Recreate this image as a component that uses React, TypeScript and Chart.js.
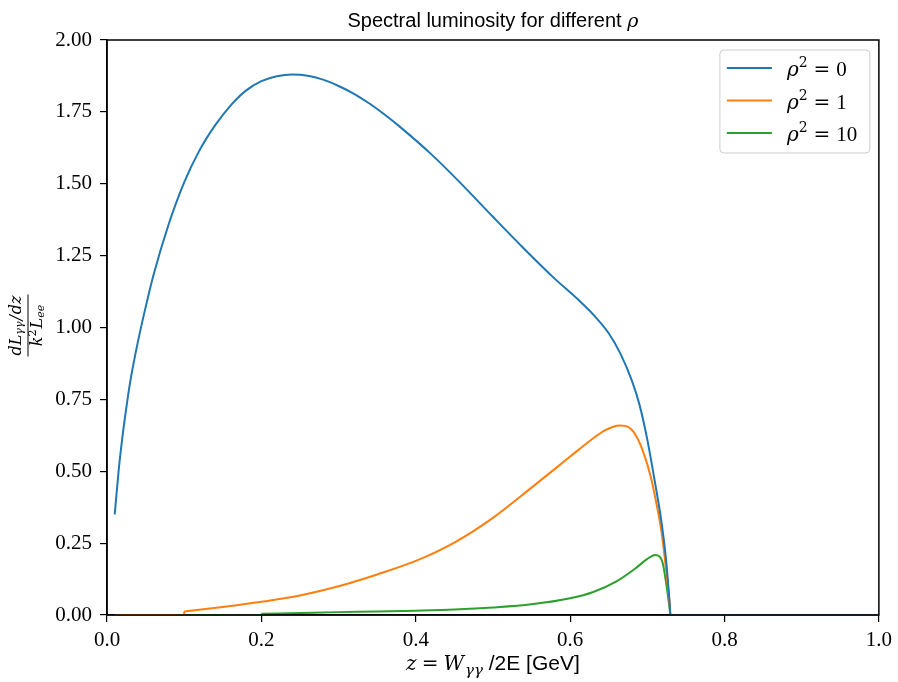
import React, { useEffect, useRef } from "react";
import { Chart, registerables } from "chart.js";
Chart.register(...registerables);

// ---------- data ----------
const rhoSquared = [0, 1, 10];
const seriesColors = ["#1f77b4", "#ff7f0e", "#2ca02c"];

const zRho0 = [0.01, 0.015, 0.02, 0.025, 0.03, 0.04, 0.05, 0.06, 0.08, 0.1, 0.12, 0.14, 0.16, 0.18, 0.2, 0.22, 0.24, 0.26, 0.28, 0.3, 0.32, 0.34, 0.36, 0.38, 0.42, 0.46, 0.5, 0.54, 0.58, 0.61, 0.63, 0.65, 0.665, 0.68, 0.69, 0.7, 0.71, 0.718, 0.724, 0.729, 0.73, 0.8, 0.9, 1.0];
const lumRho0 = [0.35, 0.5, 0.62, 0.72, 0.81, 0.95, 1.07, 1.18, 1.36, 1.505, 1.617, 1.703, 1.772, 1.824, 1.857, 1.874, 1.88, 1.876, 1.862, 1.84, 1.813, 1.779, 1.74, 1.697, 1.603, 1.497, 1.385, 1.275, 1.17, 1.098, 1.045, 0.98, 0.91, 0.815, 0.73, 0.61, 0.46, 0.33, 0.2, 0.04, 0, 0, 0, 0];

// null marks the jump where the curve switches on
const zRho1 = [0.01, 0.0999, 0.1, 0.1, 0.1, 0.15, 0.2, 0.25, 0.3, 0.35, 0.4, 0.45, 0.5, 0.55, 0.6, 0.63, 0.645, 0.655, 0.665, 0.675, 0.685, 0.695, 0.705, 0.712, 0.718, 0.724, 0.729, 0.73, 0.8, 0.9, 1.0];
const lumRho1 = [0, 0, 0.012, null, 0.012, 0.028, 0.046, 0.068, 0.1, 0.141, 0.188, 0.252, 0.338, 0.443, 0.551, 0.615, 0.642, 0.654, 0.659, 0.654, 0.625, 0.565, 0.475, 0.385, 0.296, 0.165, 0.035, 0, 0, 0, 0];

const zRho10 = [0.01, 0.1999, 0.2, 0.2, 0.2, 0.25, 0.3, 0.35, 0.4, 0.45, 0.5, 0.55, 0.6, 0.63, 0.66, 0.685, 0.7, 0.71, 0.716, 0.72, 0.725, 0.729, 0.73, 0.8, 0.9, 1.0];
const lumRho10 = [0, 0, 0.004, null, 0.004, 0.007, 0.01, 0.012, 0.015, 0.019, 0.026, 0.037, 0.058, 0.08, 0.117, 0.163, 0.195, 0.209, 0.203, 0.18, 0.1, 0.02, 0, 0, 0, 0];

const xTickValues = [0, 0.2, 0.4, 0.6, 0.8, 1.0];
const yTickValues = [0, 0.25, 0.5, 0.75, 1.0, 1.25, 1.5, 1.75, 2.0];

const titleText = "Spectral luminosity for different ";

// ---------- helpers ----------
const SERIF = "'Liberation Serif', 'DejaVu Serif', serif";
const MATH = "'DejaVu Serif', serif";
const SANS = "'Liberation Sans', 'DejaVu Sans', sans-serif";

type Seg = { t: string; font: string; dy?: number; gap?: number };

function segWidth(ctx: CanvasRenderingContext2D, segs: Seg[]) {
  let w = 0;
  for (const s of segs) {
    ctx.font = s.font;
    w += ctx.measureText(s.t).width + (s.gap || 0);
  }
  return w;
}

function drawSegs(ctx: CanvasRenderingContext2D, segs: Seg[], x: number, y: number, align: "left" | "center") {
  const w = segWidth(ctx, segs);
  let cx = align === "center" ? x - w / 2 : x;
  ctx.textAlign = "left";
  ctx.textBaseline = "alphabetic";
  for (const s of segs) {
    cx += s.gap || 0;
    ctx.font = s.font;
    ctx.fillText(s.t, cx, y + (s.dy || 0));
    cx += ctx.measureText(s.t).width;
  }
  return w;
}

const decorPlugin = {
  id: "decor",
  afterDraw(chart: any) {
    const ctx: CanvasRenderingContext2D = chart.ctx;
    const a = chart.chartArea;
    ctx.save();
    // frame
    ctx.strokeStyle = "#000";
    ctx.lineWidth = 1.5;
    ctx.strokeRect(a.left, a.top, a.right - a.left, a.bottom - a.top);

    ctx.fillStyle = "#000";
    const cx = (a.left + a.right) / 2;
    // title
    drawSegs(
      ctx,
      [
        { t: titleText, font: `20px ${SANS}` },
        { t: "ρ", font: `italic 19px ${MATH}` },
      ],
      cx,
      27,
      "center"
    );
    // x label
    drawSegs(
      ctx,
      [
        { t: "z", font: `italic 20px ${MATH}` },
        { t: "=", font: `20px ${MATH}`, gap: 5 },
        { t: "W", font: `italic 20px ${MATH}`, gap: 5 },
        { t: "γγ", font: `italic 15px ${MATH}`, dy: 5, gap: 1 },
        { t: " /2E [GeV]", font: `21px ${SANS}` },
      ],
      cx,
      670,
      "center"
    );
    // y label (fraction, rotated)
    ctx.save();
    ctx.translate(28, (a.top + a.bottom) / 2 - 2);
    ctx.rotate(-Math.PI / 2);
    const num: Seg[] = [
      { t: "dL", font: `italic 16px ${MATH}` },
      { t: "γγ", font: `italic 11px ${MATH}`, dy: 2 },
      { t: "/", font: `italic 16px ${MATH}`, gap: 1 },
      { t: "dz", font: `italic 16px ${MATH}`, gap: 1 },
    ];
    const den: Seg[] = [
      { t: "k", font: `italic 16px ${MATH}` },
      { t: "2", font: `11px ${MATH}`, dy: -6 },
      { t: "L", font: `italic 16px ${MATH}`, gap: 1 },
      { t: "ee", font: `italic 11px ${MATH}`, dy: 2 },
    ];
    const nw = segWidth(ctx, num);
    drawSegs(ctx, num, 0, -7, "center");
    ctx.lineWidth = 1;
    ctx.beginPath();
    ctx.moveTo(-nw / 2 - 1, 0);
    ctx.lineTo(nw / 2 + 1, 0);
    ctx.stroke();
    drawSegs(ctx, den, 0, 14, "center");
    ctx.restore();

    // legend
    const bx = a.right - 159, by = a.top + 10, bw = 150, bh = 103;
    ctx.beginPath();
    const r = 4;
    ctx.moveTo(bx + r, by);
    ctx.arcTo(bx + bw, by, bx + bw, by + bh, r);
    ctx.arcTo(bx + bw, by + bh, bx, by + bh, r);
    ctx.arcTo(bx, by + bh, bx, by, r);
    ctx.arcTo(bx, by, bx + bw, by, r);
    ctx.closePath();
    ctx.fillStyle = "rgba(255,255,255,0.8)";
    ctx.fill();
    ctx.strokeStyle = "#cccccc";
    ctx.lineWidth = 1;
    ctx.stroke();
    chart.data.datasets.forEach((ds: any, i: number) => {
      const ly = by + 18 + i * 32.5;
      ctx.strokeStyle = ds.borderColor;
      ctx.lineWidth = 2;
      ctx.beginPath();
      ctx.moveTo(bx + 7, ly);
      ctx.lineTo(bx + 52, ly);
      ctx.stroke();
      ctx.fillStyle = "#000";
      drawSegs(
        ctx,
        [
          { t: "ρ", font: `italic 20px ${MATH}` },
          { t: "2", font: `14px ${MATH}`, dy: -9 },
          { t: "=", font: `20px ${MATH}`, gap: 6 },
          { t: String(rhoSquared[i]), font: `21px ${SERIF}`, gap: 6 },
        ],
        bx + 67,
        ly + 8,
        "left"
      );
    });
    ctx.restore();
  },
};

export default function App() {
  const ref = useRef<HTMLCanvasElement | null>(null);
  useEffect(() => {
    if (!ref.current) return;
    const zs = [zRho0, zRho1, zRho10];
    const ls: (number | null)[][] = [lumRho0, lumRho1, lumRho10];
    const chart = new Chart(ref.current, {
      type: "line",
      data: {
        datasets: zs.map((z, i) => ({
          label: "ρ² = " + rhoSquared[i],
          data: z.map((x, k) => ({ x, y: ls[i][k] })),
          borderColor: seriesColors[i],
          backgroundColor: seriesColors[i],
          borderWidth: 2,
          pointRadius: 0,
          spanGaps: false,
          cubicInterpolationMode: "monotone" as const,
          fill: false,
        })),
      },
      options: {
        responsive: false,
        animation: false,
        layout: { padding: { top: 40, right: 18, left: 0, bottom: 0 } },
        plugins: { legend: { display: false }, title: { display: false }, tooltip: { enabled: false } },
        scales: {
          x: {
            type: "linear",
            min: 0,
            max: 1,
            afterBuildTicks: (s: any) => {
              s.ticks = xTickValues.map((v) => ({ value: v }));
            },
            afterFit: (s: any) => {
              s.height = 67;
            },
            ticks: {
              color: "#000",
              padding: 6,
              maxRotation: 0,
              font: { family: SERIF, size: 21 },
              callback: (v: any) => Number(v).toFixed(1),
            },
            grid: { display: true, drawOnChartArea: false, drawTicks: true, tickLength: 7, color: "#000", lineWidth: 1.2 },
            border: { display: true, color: "#000", width: 1.5 },
          },
          y: {
            type: "linear",
            min: 0,
            max: 2,
            afterBuildTicks: (s: any) => {
              s.ticks = yTickValues.map((v) => ({ value: v }));
            },
            afterFit: (s: any) => {
              s.width = 107;
            },
            ticks: {
              color: "#000",
              padding: 8,
              font: { family: SERIF, size: 21 },
              callback: (v: any) => Number(v).toFixed(2),
            },
            grid: { display: true, drawOnChartArea: false, drawTicks: true, tickLength: 7, color: "#000", lineWidth: 1.2 },
            border: { display: true, color: "#000", width: 1.5 },
          },
        },
      },
      plugins: [decorPlugin],
    } as any);
    return () => chart.destroy();
  }, []);
  return (
    <div style={{ position: "fixed", left: 0, top: 0, width: 898, height: 682, background: "#fff" }}>
      <canvas ref={ref} width={898} height={682} style={{ display: "block" }} />
    </div>
  );
}
